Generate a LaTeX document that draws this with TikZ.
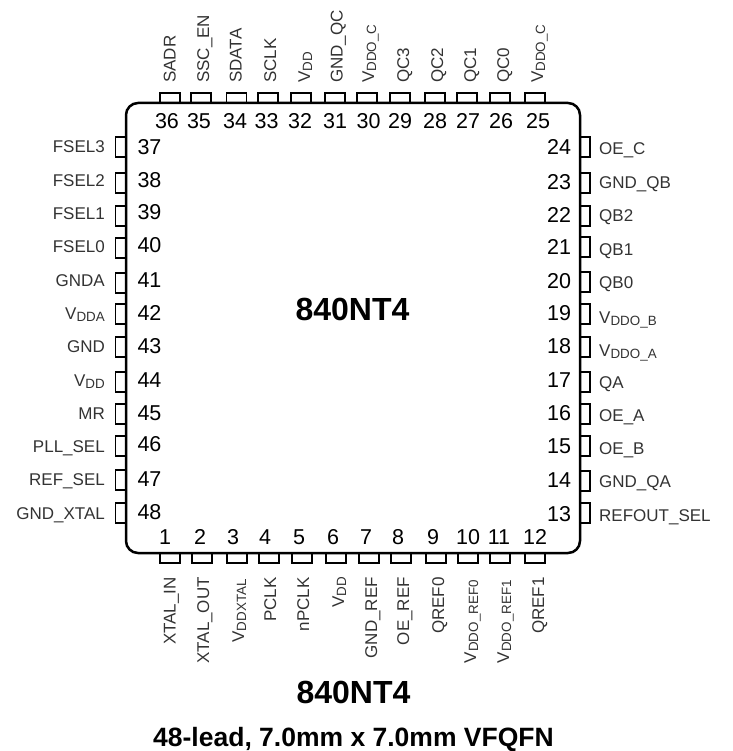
\documentclass[tikz,border=0pt]{standalone}
\usepackage{fontspec}
\setmainfont{Liberation Sans}
\usepackage{tikz}
\definecolor{pintext}{HTML}{333333}
\tikzset{
  package/.style={
    rectangle, minimum width=454pt, minimum height=450pt, rounded corners=12pt,
    line width=2.5pt, draw=black
  },
  %
  hpad/.style={
    rectangle, minimum width=10pt, minimum height=20pt, inner sep=0pt,
    line width=1.3pt, draw=black
  },
  %
  vpad/.style={
    rectangle, minimum width=20pt, minimum height=10pt, inner sep=0pt,
    line width=1.3pt, draw=black
  },
  %
  pinnum/.style={
    inner sep=0pt, font=\fontsize{21.5}{24}\selectfont
  },
  %
  pinname/.style={
    inner sep=0pt, text=pintext, font=\fontsize{17}{20}\selectfont
  },
  %
  bigtitle/.style={
    inner sep=0pt, font=\fontsize{32}{36}\bfseries\selectfont
  },
  %
  subtitle/.style={
    inner sep=0pt, font=\fontsize{26.5}{30}\bfseries\selectfont
  }
}
\newcommand{\vsub}[1]{V\raisebox{-2pt}{\fontsize{13.4}{14}\selectfont #1}}
% number, pad position, number position, label baseline, label
\newcommand{\toppin}[5]{
  \node(pad#1)[vpad] at (#2,98) {};
  \node(num#1)[pinnum] at (#3,121) {#1};
  \node(name#1)[pinname, rotate=90, anchor=base west] at (#4,83) {#5};
}
\newcommand{\botpin}[5]{
  \node(pad#1)[vpad] at (#2,558) {};
  \node(num#1)[pinnum] at (#3,537) {#1};
  \node(name#1)[pinname, rotate=90, anchor=base east] at (#4,577) {#5};
}
\newcommand{\leftpin}[5]{
  \node(pad#1)[hpad] at (120.5,#2) {};
  \node(num#1)[pinnum] at (149.5,#3) {#1};
  \node(name#1)[pinname, anchor=base east] at (105,#4) {#5};
}
\newcommand{\rightpin}[5]{
  \node(pad#1)[hpad] at (585,#2) {};
  \node(num#1)[pinnum] at (559,#3) {#1};
  \node(name#1)[pinname, anchor=base west] at (599,#4) {#5};
}

\begin{document}
\begin{tikzpicture}[x=1pt, y=-1pt]
\useasboundingbox (0,0) rectangle (732,751);

\toppin{36}{170}{167}{175.7}{SADR}
\toppin{35}{201}{199}{209}{SSC\_EN}
\toppin{34}{236.5}{235}{241.7}{SDATA}
\toppin{33}{268}{266.5}{276}{SCLK}
\toppin{32}{301}{300}{310}{\vsub{DD}}
\toppin{31}{335}{335}{342.7}{GND\_QC}
\toppin{30}{367}{368.5}{374}{\vsub{DDO\_C}}
\toppin{29}{400}{400}{409}{QC3}
\toppin{28}{435}{435}{443}{QC2}
\toppin{27}{467}{468}{476}{QC1}
\toppin{26}{500}{501}{509}{QC0}
\toppin{25}{535}{538}{543}{\vsub{DDO\_C}}

\leftpin{37}{147}{147}{153}{FSEL3}
\leftpin{38}{183}{180}{186.5}{FSEL2}
\leftpin{39}{216}{212}{219}{FSEL1}
\leftpin{40}{248}{245}{252}{FSEL0}
\leftpin{41}{283}{280}{286}{GNDA}
\leftpin{42}{314}{313}{319}{\vsub{DDA}}
\leftpin{43}{347}{346}{352}{GND}
\leftpin{44}{382}{380}{386}{\vsub{DD}}
\leftpin{45}{414}{413}{419}{MR}
\leftpin{46}{446}{444}{452}{PLL\_SEL}
\leftpin{47}{480}{479}{485}{REF\_SEL}
\leftpin{48}{513}{512}{519}{GND\_XTAL}

\botpin{1}{170}{165}{175.7}{XTAL\_IN}
\botpin{2}{202}{200}{209}{XTAL\_OUT}
\botpin{3}{237}{233}{244}{\vsub{DDXTAL}\kern2pt}
\botpin{4}{269}{265}{276}{PCLK}
\botpin{5}{302}{299}{309}{nPCLK}
\botpin{6}{336}{333}{344}{\vsub{DD}}
\botpin{7}{369}{366}{377}{GND\_REF}
\botpin{8}{401}{398}{409}{OE\_REF}
\botpin{9}{436}{433}{444}{QREF0}
\botpin{10}{468}{468}{476}{\vsub{DDO\_REF0}\kern3pt}
\botpin{11}{500}{499}{509}{\vsub{DDO\_REF1}\kern3pt}
\botpin{12}{535}{535}{544}{QREF1}

\rightpin{24}{147}{147}{155}{OE\_C}
\rightpin{23}{183}{182}{189}{GND\_QB}
\rightpin{22}{216}{215}{222}{QB2}
\rightpin{21}{247}{247}{255}{QB1}
\rightpin{20}{282}{281}{288}{QB0}
\rightpin{19}{314}{313}{323}{\vsub{DDO\_B}}
\rightpin{18}{347}{346}{356}{\vsub{DDO\_A}}
\rightpin{17}{382}{380}{388}{QA}
\rightpin{16}{414}{413}{421}{OE\_A}
\rightpin{15}{446}{446}{454}{OE\_B}
\rightpin{14}{481}{480}{487}{GND\_QA}
\rightpin{13}{513}{514}{521}{REFOUT\_SEL}

\node(chip)[package] at (353,328) {};
\node(partname)[bigtitle] at (352.5,309) {840NT4};
\node(title)[bigtitle] at (353.5,692) {840NT4};
\node(lead)[subtitle] at (353.5,739) {48-lead, 7.0mm x 7.0mm VFQFN};

\end{tikzpicture}
\end{document}
